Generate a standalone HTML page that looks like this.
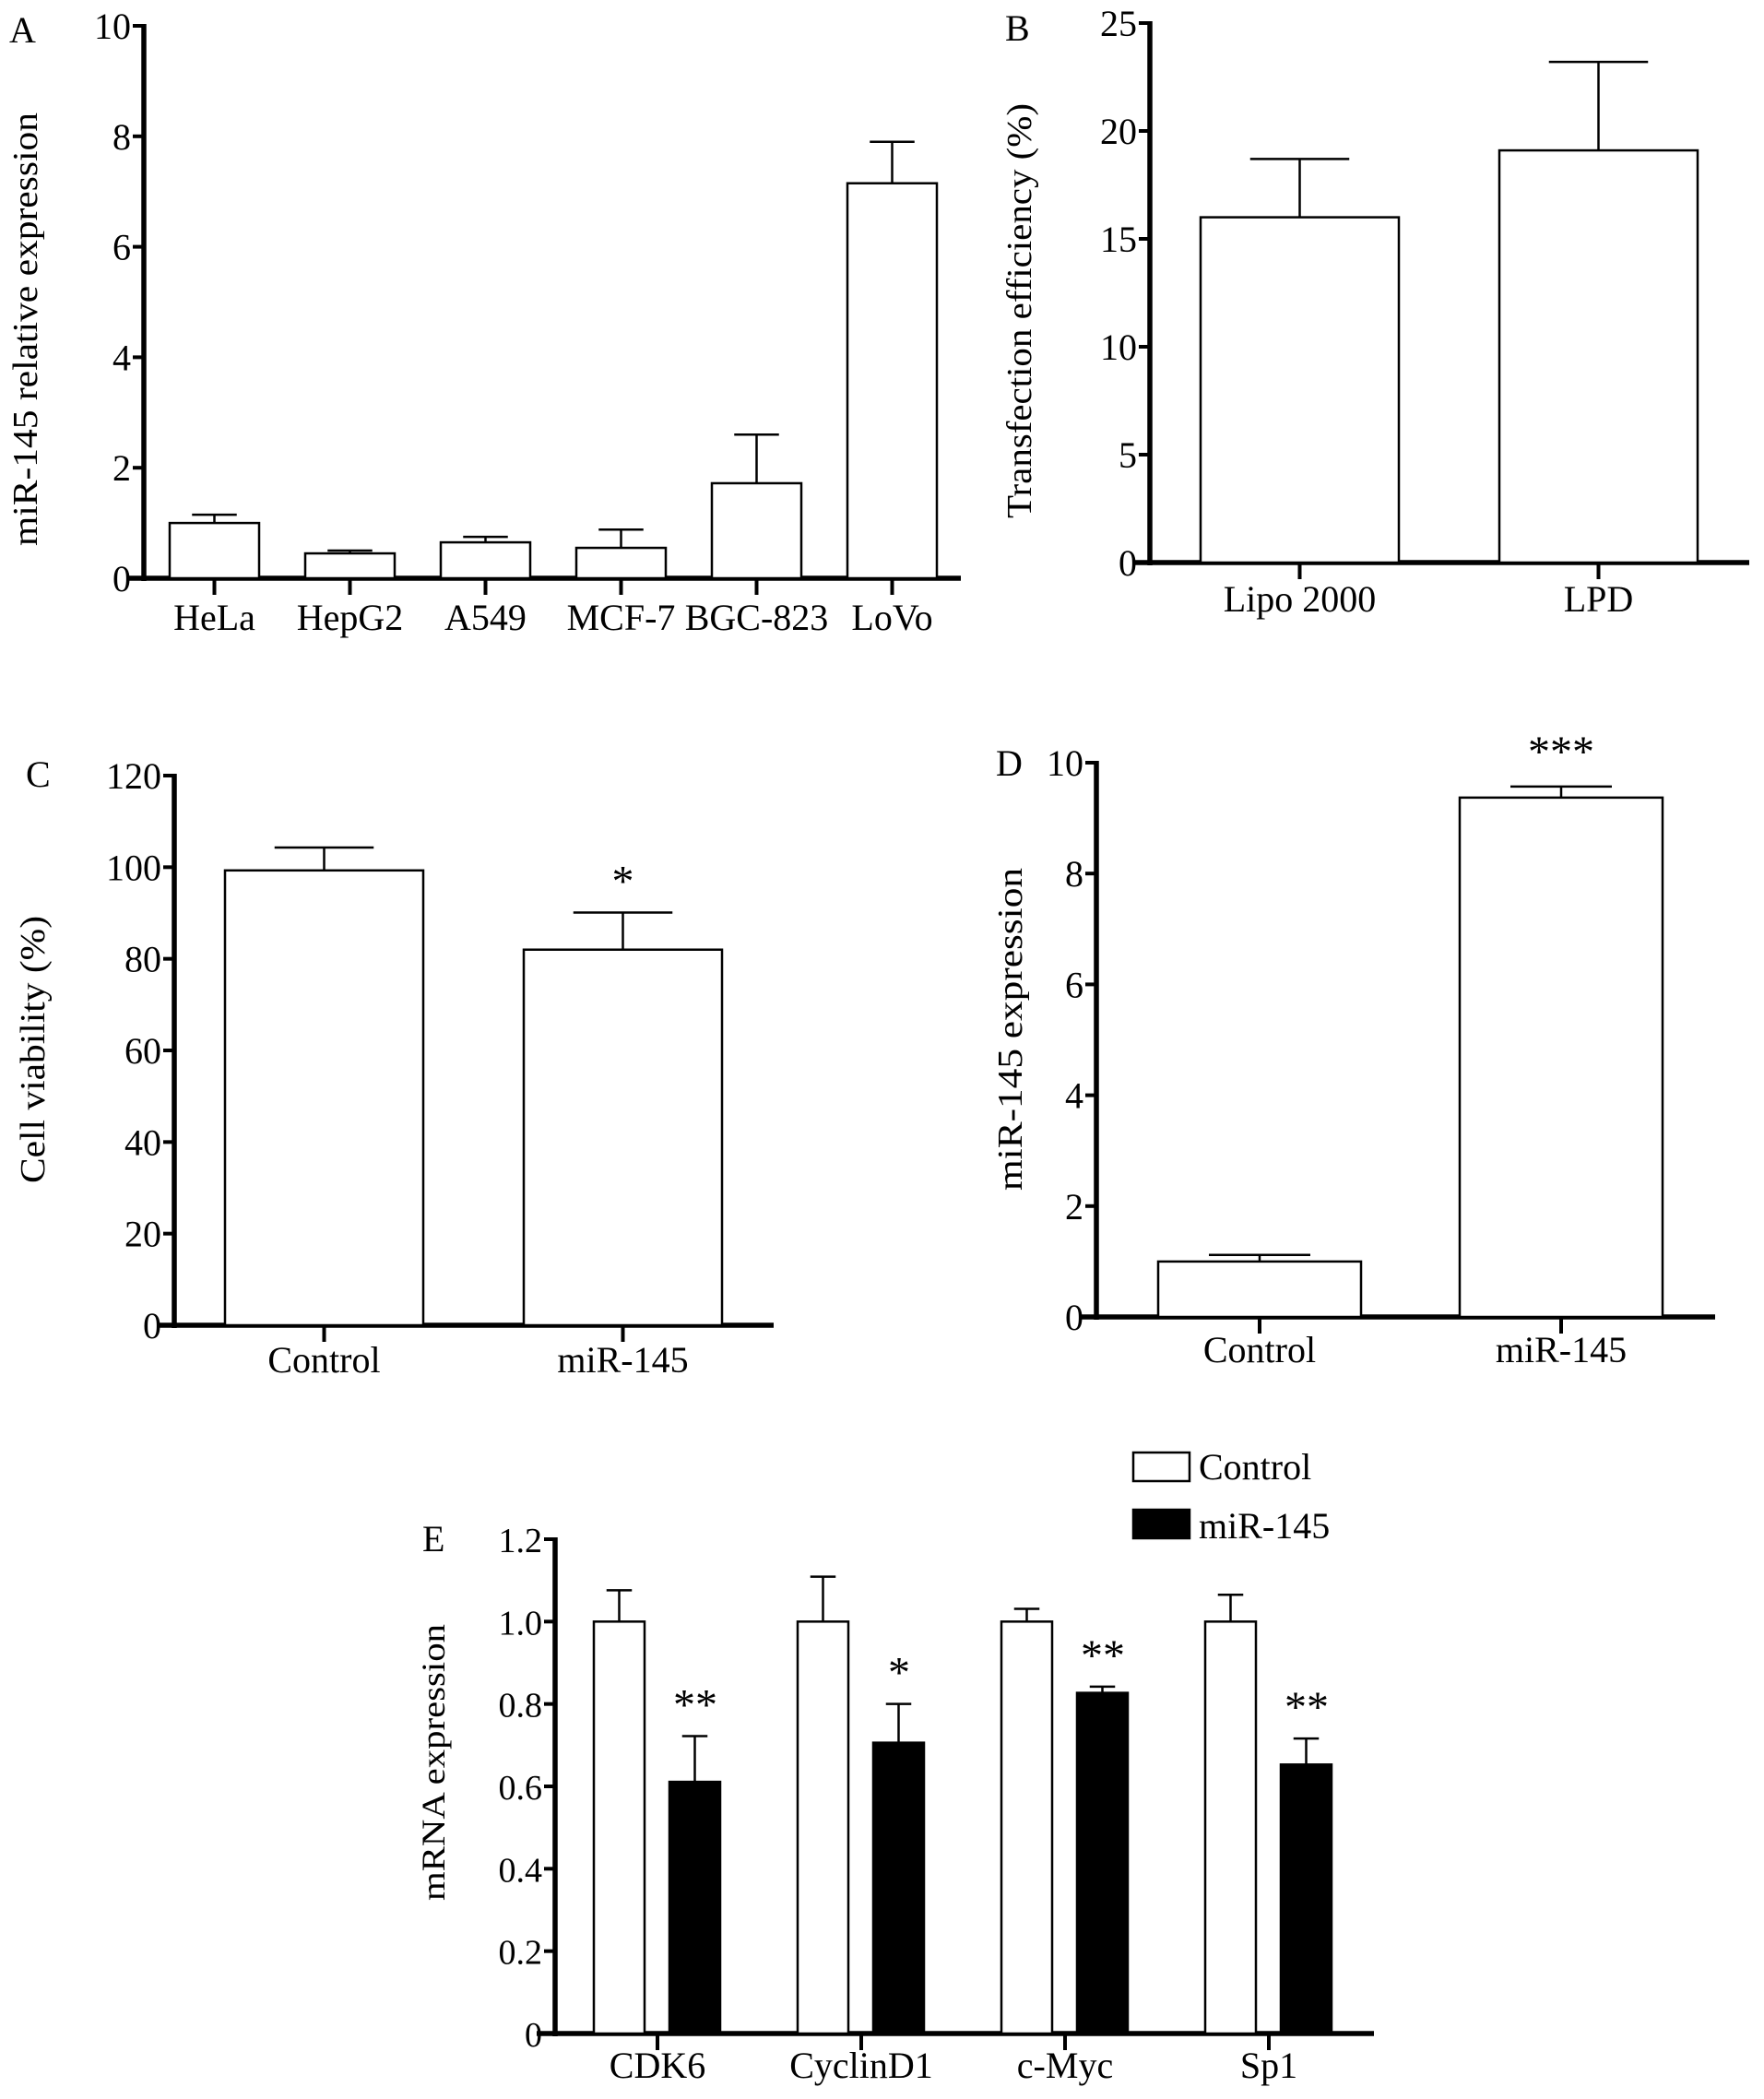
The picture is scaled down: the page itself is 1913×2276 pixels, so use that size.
<!DOCTYPE html>
<html><head><meta charset="utf-8"><style>
html,body{margin:0;padding:0;background:#fff;}
svg{display:block;font-family:"Liberation Serif",serif;}
</style></head><body>
<svg id="fig" width="1913" height="2276" viewBox="0 0 1913 2276" xmlns="http://www.w3.org/2000/svg"></svg>
<script>
// Panel A
const aCats = ["HeLa","HepG2","A549","MCF-7","BGC-823","LoVo"];
const aVals = [1.0,0.45,0.65,0.55,1.72,7.15];
const aErrs = [0.15,0.05,0.1,0.33,0.88,0.75];
const aTicks = [0,2,4,6,8,10];
// Panel B
const bCats = ["Lipo 2000","LPD"];
const bVals = [16.0,19.1];
const bErrs = [2.7,4.1];
const bTicks = [0,5,10,15,20,25];
// Panel C
const cCats = ["Control","miR-145"];
const cVals = [99.3,82.0];
const cErrs = [5.0,8.1];
const cTicks = [0,20,40,60,80,100,120];
const cStars = ["","*"];
// Panel D
const dCats = ["Control","miR-145"];
const dVals = [1.0,9.37];
const dErrs = [0.12,0.2];
const dTicks = [0,2,4,6,8,10];
const dStars = ["","***"];
// Panel E
const eCats = ["CDK6","CyclinD1","c-Myc","Sp1"];
const eCtrl = [1.0,1.0,1.0,1.0];
const eCtrlErr = [0.076,0.109,0.031,0.065];
const eMir = [0.611,0.706,0.827,0.653];
const eMirErr = [0.111,0.094,0.015,0.063];
const eTicks = ["0","0.2","0.4","0.6","0.8","1.0","1.2"];
const eStars = ["**","*","**","**"];

const NS="http://www.w3.org/2000/svg";
const svg=document.getElementById('fig');
function mk(tag,attrs,parent){const e=document.createElementNS(NS,tag);for(const k in attrs)e.setAttribute(k,attrs[k]);(parent||svg).appendChild(e);return e;}
function txt(s,x,y,size,anchor,parent){const t=mk('text',{x:x,y:y,'font-size':size,'text-anchor':anchor||'middle',fill:'#000'},parent);t.textContent=s;return t;}

function axes(g,P,ticks,tickLabels){
  const ys=v=>P.y0-(v-P.min)/(P.max-P.min)*(P.y0-P.y1);
  mk('line',{x1:P.ax,y1:P.y1-2,x2:P.ax,y2:P.y0+3,stroke:'#000','stroke-width':5.5},g);
  mk('line',{x1:P.xs,y1:P.y0,x2:P.xe,y2:P.y0,stroke:'#000','stroke-width':5.5},g);
  ticks.forEach((v,i)=>{
    const y=ys(v);
    const tk=mk('line',{x1:P.ax-12,y1:y,x2:P.ax,y2:y,stroke:'#000','stroke-width':4},g);
    
    
    const t=txt(tickLabels?tickLabels[i]:String(v),P.ax-14,y+14,P.fs,'end',g);
    
    
  });
  return ys;
}
function bar(g,x,w,y0,yt,ye,fill,name){
  const eb=mk('line',{x1:x+w/2,y1:yt,x2:x+w/2,y2:ye,stroke:'#000','stroke-width':2.5},g);
  
  
  const cap=mk('line',{x1:x+w/2-w*0.25,y1:ye,x2:x+w/2+w*0.25,y2:ye,stroke:'#000','stroke-width':2.5},g);
  
  
  const r=mk('rect',{x:x,y:yt,width:w,height:y0-yt,fill:fill,stroke:'#000','stroke-width':2.5},g);
  
  
}
function xtick(g,x,y0,label,ly,fs){
  const t=mk('line',{x1:x,y1:y0,x2:x,y2:y0+18,stroke:'#000','stroke-width':4},g);
  
  
  const l=txt(label,x,ly,fs,'middle',g);
  
  
}
function ytitle(g,s,x,y,len,fs){
  const t=mk('text',{x:0,y:0,'font-size':fs,'text-anchor':'middle',transform:`translate(${x},${y}) rotate(-90)`,textLength:len,lengthAdjust:'spacingAndGlyphs'},g);
  t.textContent=s;
  
  
}
function panelLabel(g,s,x,y){const t=txt(s,x,y,40,'start',g);}
function group(name){const g=mk('g',{});return g;}

// ---- A
(function(){
  const g=group('panel-a');
  const P={ax:156,y0:627,y1:28,min:0,max:10,xs:140,xe:1042,fs:40};
  const ys=axes(g,P,aTicks);
  aCats.forEach((c,i)=>{
    const x=184+i*147,w=97;
    bar(g,x,w,P.y0,ys(aVals[i]),ys(aVals[i]+aErrs[i]),'#fff','bar-'+c.toLowerCase());
    xtick(g,x+w/2,P.y0,c,683,40);
  });
  panelLabel(g,'A',10,46);
  ytitle(g,'miR-145 relative expression',40,357,470,38);
})();
// ---- B
(function(){
  const g=group('panel-b');
  const P={ax:1247,y0:610,y1:25,min:0,max:25,xs:1230,xe:1897,fs:40};
  const ys=axes(g,P,bTicks);
  bCats.forEach((c,i)=>{
    const x=1302+i*324,w=215;
    bar(g,x,w,P.y0,ys(bVals[i]),ys(bVals[i]+bErrs[i]),'#fff','bar-'+c.toLowerCase().replace(' ','-'));
    xtick(g,x+w/2,P.y0,c,663,40);
  });
  panelLabel(g,'B',1090,44);
  ytitle(g,'Transfection efficiency (%)',1118,337,450,38);
})();
// ---- C
(function(){
  const g=group('panel-c');
  const P={ax:189,y0:1437,y1:841,min:0,max:120,xs:171,xe:839,fs:40};
  const ys=axes(g,P,cTicks);
  cCats.forEach((c,i)=>{
    const x=244+i*324,w=215;
    bar(g,x,w,P.y0,ys(cVals[i]),ys(cVals[i]+cErrs[i]),'#fff','bar-'+c.toLowerCase());
    xtick(g,x+w/2,P.y0,c,1488,40);
    if(cStars[i]){const s=txt(cStars[i],x+w/2,ys(cVals[i]+cErrs[i])-18,48,'middle',g);}
  });
  panelLabel(g,'C',28,853);
  ytitle(g,'Cell viability (%)',48,1138,290,38);
})();
// ---- D
(function(){
  const g=group('panel-d');
  const P={ax:1189,y0:1428,y1:827,min:0,max:10,xs:1172,xe:1860,fs:40};
  const ys=axes(g,P,dTicks);
  dCats.forEach((c,i)=>{
    const x=1256+i*327,w=220;
    bar(g,x,w,P.y0,ys(dVals[i]),ys(dVals[i]+dErrs[i]),'#fff','bar-'+c.toLowerCase());
    xtick(g,x+w/2,P.y0,c,1477,40);
    if(dStars[i]){const s=txt(dStars[i],x+w/2,ys(dVals[i]+dErrs[i])-22,48,'middle',g);}
  });
  panelLabel(g,'D',1080,841);
  ytitle(g,'miR-145  expression',1108,1116,350,38);
})();
// ---- E
(function(){
  const g=group('panel-e');
  const P={ax:602,y0:2205,y1:1669,min:0,max:1.2,xs:582,xe:1490,fs:38};
  const ys=axes(g,P,eTicks.map(Number),eTicks);
  eCats.forEach((c,i)=>{
    const cx=713+i*221,w=55;
    bar(g,cx-69,w,P.y0,ys(eCtrl[i]),ys(eCtrl[i]+eCtrlErr[i]),'#fff','bar-control-'+c.toLowerCase());
    bar(g,cx+13,w,P.y0,ys(eMir[i]),ys(eMir[i]+eMirErr[i]),'#000','bar-mir145-'+c.toLowerCase());
    xtick(g,cx,P.y0,c,2253,40);
    const s=txt(eStars[i],cx+41,ys(eMir[i]+eMirErr[i])-18,48,'middle',g);
    
    
  });
  panelLabel(g,'E',458,1682);
  ytitle(g,'mRNA expression',482,1911,300,36);
  const lg=group('legend');
  const r1=mk('rect',{x:1229,y:1575,width:61,height:31,fill:'#fff',stroke:'#000','stroke-width':2.5},lg);
  
  
  const t1=txt('Control',1300,1604,40,'start',lg);
  
  
  const r2=mk('rect',{x:1229,y:1637,width:61,height:31,fill:'#000',stroke:'#000','stroke-width':2.5},lg);
  
  
  const t2=txt('miR-145',1300,1668,40,'start',lg);
  
  
})();
</script>
</body></html>
